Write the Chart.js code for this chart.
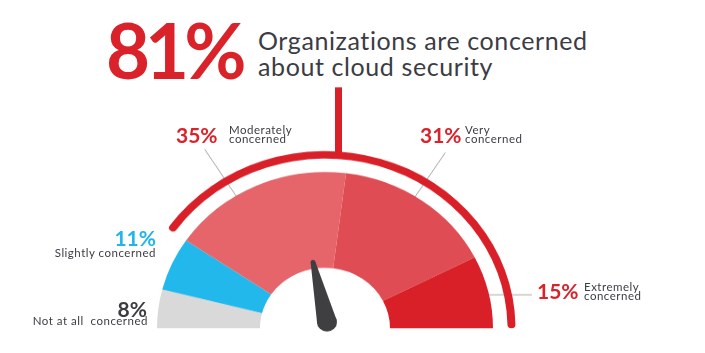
<!DOCTYPE html>
<html>
<head>
<meta charset="utf-8">
<script src="https://cdn.jsdelivr.net/npm/chart.js@4.4.1/dist/chart.umd.min.js"></script>
<style>
  body { margin: 0; width: 705px; height: 353px; background: #fff; position: relative; overflow: hidden; font-family: Lato, sans-serif; }
  /* the source gauge is a little squashed vertically */
  #gauge { position: absolute; left: 0; top: 63px; transform: scaleY(0.93); transform-origin: 325px 265.25px; }
  .t { position: absolute; white-space: pre; }
</style>
</head>
<body>
<canvas id="gauge" width="705" height="340"></canvas>
<script>
const categories = ["Not at all  concerned", "Slightly concerned", "Moderately concerned", "Very concerned", "Extremely concerned"];
const values = [8, 11, 35, 31, 15];
const segColors = ["#d9d9d9", "#22b8ec", "#e5656b", "#e04c53", "#d92029"];
const pctColors = ["#3d3d40", "#22b5e8", "#d9222a", "#d9222a", "#d9222a"];
const headlineText = "Organizations are concerned\nabout cloud security";

const notConcerned = values[0] + values[1];
const concerned = values.slice(2).reduce((a, b) => a + b, 0);

const RED = "#d9222a";
const GREY_TEXT = "#3c3c44";

// text placement for each category label
const labelPos = [
  { align: "right", x: 147, pctBase: 317, descX: 148, descBase: 326, wrap: false },
  { align: "right", x: 156, pctBase: 246, descX: 156, descBase: 258, wrap: false },
  { align: "left", x: 176, pctBase: 143, descX: 229, descBase: 135, wrap: true },
  { align: "left", x: 420, pctBase: 143, descX: 465, descBase: 135, wrap: true },
  { align: "left", x: 537, pctBase: 299, descX: 584, descBase: 292, wrap: true },
];

function addText(str, x, baseline, size, weight, color, align, lh, spacing) {
  const d = document.createElement("div");
  d.className = "t";
  d.textContent = str;
  d.style.font = `${weight} ${size}px Lato`;
  d.style.lineHeight = lh + "px";
  d.style.color = color;
  if (spacing) d.style.letterSpacing = spacing + "px";
  d.style.top = baseline - ((lh - 1.2 * size) / 2 + 0.987 * size) + "px";
  if (align === "right") {
    d.style.right = 705 - x + "px";
    d.style.textAlign = "right";
  } else {
    d.style.left = x + "px";
  }
  document.body.appendChild(d);
}

addText(concerned + "%", 106, 79, 76, 700, RED, "left", 76, -5);
addText(headlineText, 258, 50, 25, 400, GREY_TEXT, "left", 26, 0.6);

categories.forEach((name, i) => {
  const p = labelPos[i];
  addText(values[i] + "%", p.x, p.pctBase, 21, 700, pctColors[i], p.align, 21, 0);
  const desc = p.wrap ? name.replace(" ", "\n") : name;
  addText(desc, p.descX, p.descBase, 11.5, 400, GREY_TEXT, p.align, 8.5, 0.5);
});

// leader lines, outer stick and needle
const gaugeDecor = {
  id: "gaugeDecor",
  beforeDatasetsDraw(chart) {
    const ctx = chart.ctx;
    const { x, y, outerRadius } = chart.getDatasetMeta(2).data[0];
    ctx.save();
    ctx.strokeStyle = "#a8a8a8";
    ctx.lineWidth = 1;
    [[58, 59], [122.5, 56]].forEach(([deg, len]) => {
      const a = (deg * Math.PI) / 180;
      ctx.beginPath();
      ctx.moveTo(x - Math.cos(a) * (outerRadius - 2), y - Math.sin(a) * (outerRadius - 2));
      ctx.lineTo(x - Math.cos(a) * (outerRadius + len), y - Math.sin(a) * (outerRadius + len));
      ctx.stroke();
    });
    ctx.beginPath();
    ctx.moveTo(x + outerRadius - 5, y - 36);
    ctx.lineTo(x + outerRadius + 39, y - 36);
    ctx.stroke();
    ctx.restore();
  },
  afterDatasetsDraw(chart) {
    const ctx = chart.ctx;
    const { x, y } = chart.getDatasetMeta(2).data[0];
    const ring = chart.getDatasetMeta(0).data[1];
    ctx.save();
    ctx.fillStyle = "#d92029";
    ctx.fillRect(x + 10, y - 259, 7, 259 - ring.outerRadius + 3);

    const bx = x + 2, by = y - 6.5, br = 10;
    const tx = x - 12, ty = y - 71, tr = 2.4;
    const ang = Math.atan2(ty - by, tx - bx);
    const px = Math.cos(ang + Math.PI / 2), py = Math.sin(ang + Math.PI / 2);
    ctx.fillStyle = "#3f3f42";
    ctx.beginPath();
    ctx.moveTo(bx + px * br, by + py * br);
    ctx.lineTo(tx + px * tr, ty + py * tr);
    ctx.lineTo(tx - px * tr, ty - py * tr);
    ctx.lineTo(bx - px * br, by - py * br);
    ctx.closePath();
    ctx.fill();
    ctx.beginPath();
    ctx.arc(bx, by, br, 0, Math.PI * 2);
    ctx.fill();
    ctx.beginPath();
    ctx.arc(tx, ty, tr, 0, Math.PI * 2);
    ctx.fill();
    ctx.restore();
  },
};

new Chart(document.getElementById("gauge"), {
  type: "doughnut",
  data: {
    labels: categories,
    datasets: [
      {
        data: [notConcerned, concerned],
        backgroundColor: ["rgba(0,0,0,0)", "#d92029"],
        borderWidth: 0,
        borderRadius: 4,
        weight: 8,
      },
      {
        data: [1],
        backgroundColor: ["rgba(0,0,0,0)"],
        borderWidth: 0,
        weight: 14.5,
      },
      {
        data: values,
        backgroundColor: segColors,
        borderWidth: 0,
        weight: 103,
      },
    ],
  },
  options: {
    responsive: false,
    animation: false,
    events: [],
    rotation: -90,
    circumference: 180,
    radius: 190.5,
    cutout: (65 / 190.5) * 100 + "%",
    layout: { padding: { left: 0, right: 55, top: 0, bottom: 0 } },
    plugins: { legend: { display: false }, tooltip: { enabled: false } },
  },
  plugins: [gaugeDecor],
});
</script>
</body>
</html>
